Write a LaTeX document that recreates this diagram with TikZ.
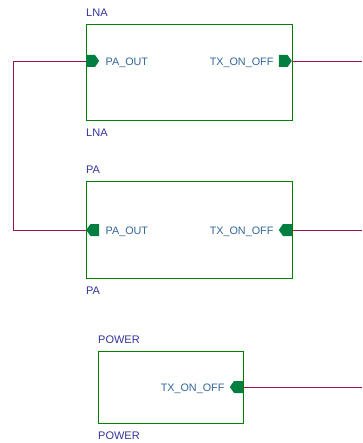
\documentclass[tikz,border=0pt]{standalone}
\usepackage{fontspec}
\setmainfont{Liberation Sans}
\usetikzlibrary{positioning,shapes.symbols}
\definecolor{BoxGreen}{HTML}{008000}
\definecolor{PinGreen}{HTML}{007F40}
\definecolor{WireRed}{HTML}{991450}
\definecolor{NameBlue}{HTML}{333399}
\definecolor{PortBlue}{HTML}{336699}

\begin{document}
\begin{tikzpicture}[
  x=1pt, y=-1pt,
  block/.style={
    draw=BoxGreen,
    line width=0.9pt,
    anchor=north west,
    inner sep=0pt
  },
  blockname/.style={
    font=\fontsize{11}{13}\selectfont,
    text=NameBlue,
    inner sep=0pt
  },
  port/.style={
    signal,
    fill=PinGreen,
    minimum width=13pt,
    minimum height=12pt,
    inner sep=0pt,
    signal pointer angle=110
  },
  portname/.style={
    font=\fontsize{10.8}{13}\selectfont,
    text=PortBlue,
    inner sep=0pt
  },
  wire/.style={draw=WireRed, line width=0.9pt}
]
  \useasboundingbox (0,0) rectangle (362,443);

  % blocks
  \node[block, minimum width=206pt, minimum height=96pt] (lna) at (86,24) {};
  \node[block, minimum width=206pt, minimum height=97pt] (pa) at (86,181) {};
  \node[block, minimum width=145pt, minimum height=72pt] (power) at (98,351) {};

  \node[blockname, anchor=south west] (lnatop) at ([yshift=7pt]lna.north west) {LNA};
  \node[blockname, anchor=north west] (lnabot) at ([yshift=-8pt]lna.south west) {LNA};
  \node[blockname, anchor=south west] (patop) at ([yshift=7pt]pa.north west) {PA};
  \node[blockname, anchor=north west] (pabot) at ([yshift=-8pt]pa.south west) {PA};
  \node[blockname, anchor=south west] (powertop) at ([yshift=7pt]power.north west) {POWER};
  \node[blockname, anchor=north west] (powerbot) at ([yshift=-8pt]power.south west) {POWER};

  % ports
  \node[port, signal to=east, anchor=west] (lnapaout) at (86,61) {};
  \node[port, signal to=east, anchor=east] (lnatx) at (292,61) {};
  \node[port, signal to=west, anchor=west] (papaout) at (86,230) {};
  \node[port, signal to=west, anchor=east] (patx) at (292,230) {};
  \node[port, signal to=west, anchor=east] (powertx) at (243,387) {};

  \node[portname, anchor=base west] at ([xshift=6pt,yshift=-4.5pt]lnapaout.east) {PA\_OUT};
  \node[portname, anchor=base east] at ([xshift=-5pt,yshift=-4.5pt]lnatx.west) {TX\_ON\_OFF};
  \node[portname, anchor=base west] at ([xshift=6pt,yshift=-4.5pt]papaout.east) {PA\_OUT};
  \node[portname, anchor=base east] at ([xshift=-5pt,yshift=-4.5pt]patx.west) {TX\_ON\_OFF};
  \node[portname, anchor=base east] at ([xshift=-5pt,yshift=-4.5pt]powertx.west) {TX\_ON\_OFF};

  % nets
  \coordinate (lnaend) at (362,61);
  \coordinate (paend) at (362,230);
  \coordinate (powerend) at (362,387);
  \draw[wire] (lnapaout.west) -- ++(-73,0) |- (papaout.west);
  \draw[wire] (lnatx.east) -- (lnaend);
  \draw[wire] (patx.east) -- (paend);
  \draw[wire] (powertx.east) -- (powerend);
\end{tikzpicture}
\end{document}
